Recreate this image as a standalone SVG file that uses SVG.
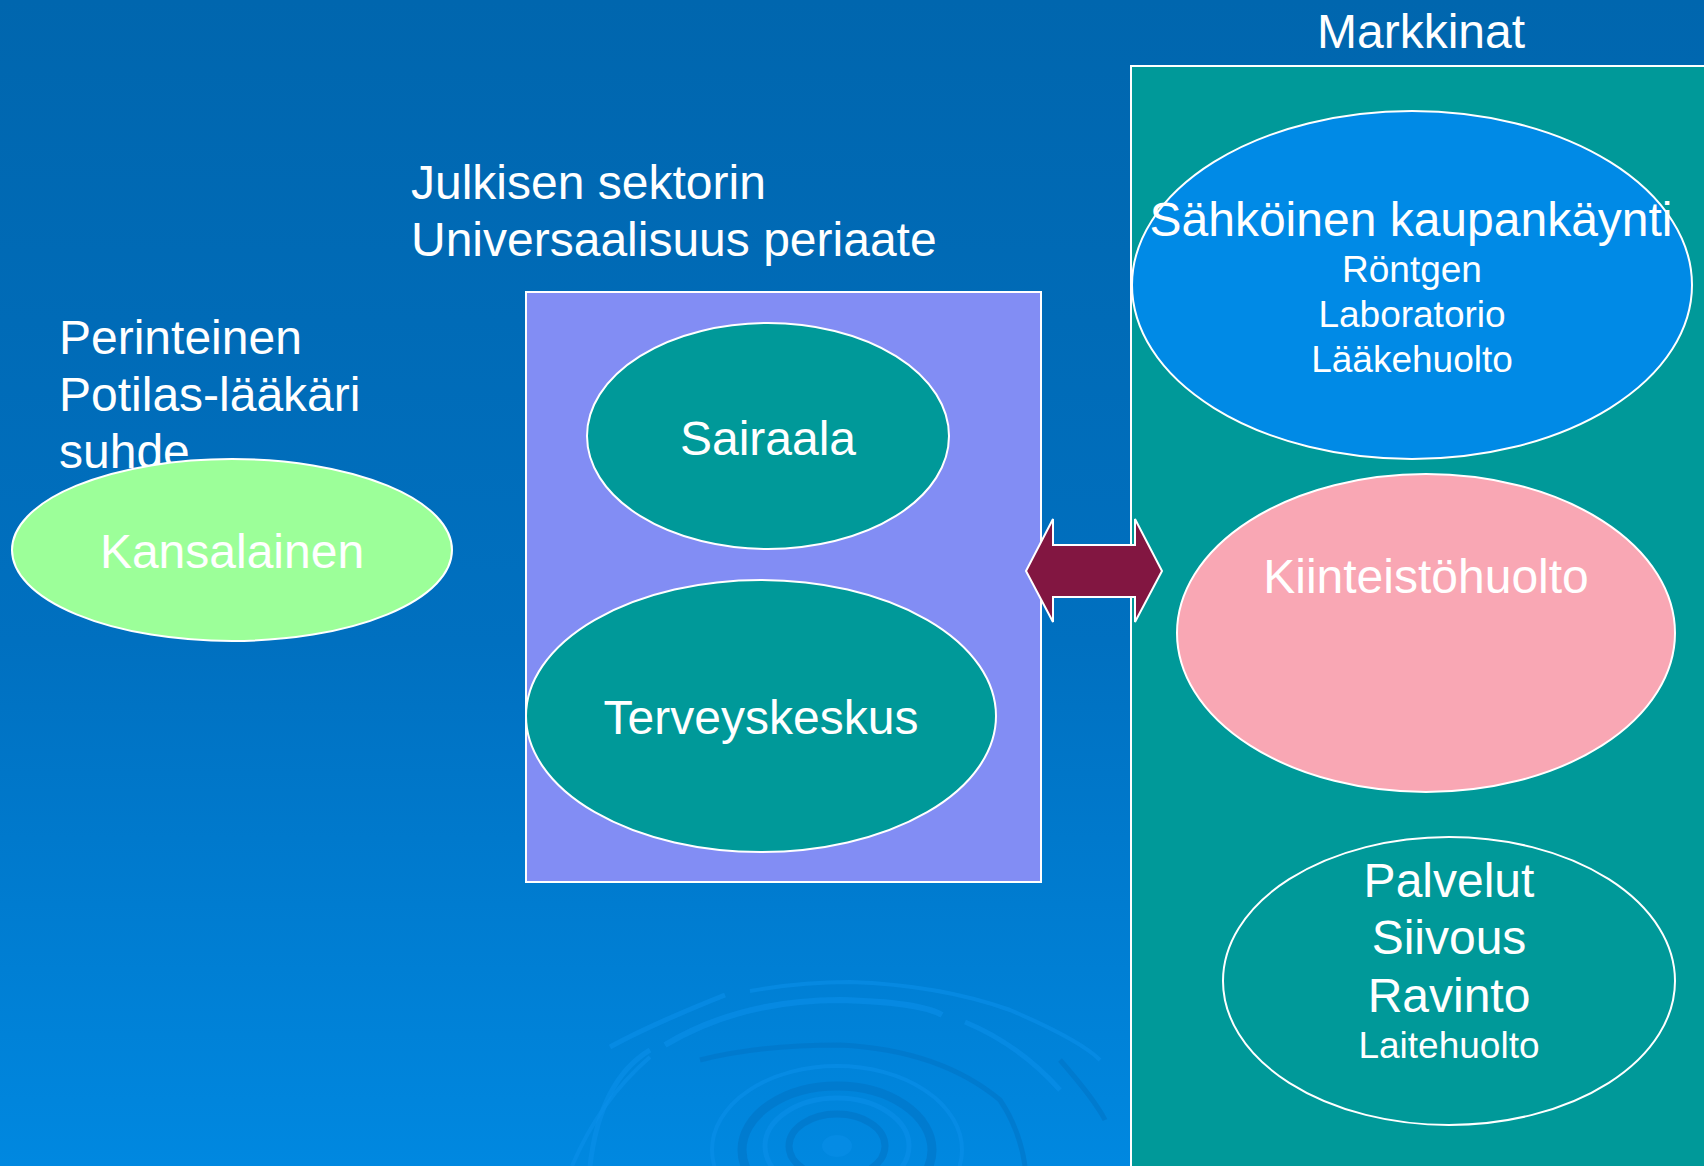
<svg xmlns="http://www.w3.org/2000/svg" width="1704" height="1166" viewBox="0 0 1704 1166">
  <defs>
    <linearGradient id="bg" x1="0" y1="0" x2="0" y2="1">
      <stop offset="0" stop-color="#0066AE"/>
      <stop offset="0.55" stop-color="#0070C0"/>
      <stop offset="1" stop-color="#0088E0"/>
    </linearGradient>
    <style>
      .t { font-family: "Liberation Sans", Arial, sans-serif; fill: #FFFFFF; }
      .big { font-size: 48px; }
      .small { font-size: 37px; }
      .mid { text-anchor: middle; }
      .node { stroke: #FFFFFF; stroke-width: 2; }
      .ring { fill: none; stroke: #0A8FEA; stroke-opacity: 0.6; }
      .ringd { fill: none; stroke: #0074C6; stroke-opacity: 0.6; }
    </style>
  </defs>

  <rect x="0" y="0" width="1704" height="1166" fill="url(#bg)"/>

  <!-- background ripple decoration -->
  <g id="ripple">
    <ellipse cx="837" cy="1146" rx="15" ry="11" fill="#0A8FEA" fill-opacity="0.5"/>
    <ellipse class="ringd" cx="837" cy="1146" rx="48" ry="32" stroke-width="7"/>
    <ellipse class="ring" cx="837" cy="1146" rx="72" ry="48" stroke-width="5"/>
    <ellipse class="ringd" cx="837" cy="1150" rx="95" ry="64" stroke-width="9"/>
    <ellipse class="ring" cx="837" cy="1150" rx="125" ry="84" stroke-width="4" stroke-opacity="0.35"/>
    <path class="ringd" d="M 700 1060 Q 760 1045 840 1045 Q 940 1050 1000 1100 Q 1020 1130 1025 1166" stroke-width="5"/>
    <path class="ring" d="M 590 1166 Q 600 1080 650 1050" stroke-width="5" stroke-opacity="0.35"/>
    <path class="ring" d="M 665 1045 Q 740 1000 840 1000 Q 920 1002 942 1015" stroke-width="6"/>
    <path class="ring" d="M 610 1047 Q 650 1025 725 995" stroke-width="5"/>
    <path class="ring" d="M 750 991 Q 800 982 850 982 Q 940 985 1010 1010 Q 1080 1040 1100 1060" stroke-width="4"/>
    <path class="ring" d="M 965 1022 Q 1020 1045 1060 1090" stroke-width="5"/>
    <path class="ringd" d="M 1060 1060 Q 1095 1100 1105 1120" stroke-width="5"/>
    <path class="ring" d="M 650 1057 Q 600 1100 572 1166" stroke-width="4" stroke-opacity="0.3"/>
  </g>

  <!-- plain labels -->
  <g id="label-julkinen">
    <text class="t big" x="411" y="199">Julkisen sektorin</text>
    <text class="t big" x="411" y="256">Universaalisuus periaate</text>
  </g>
  <g id="label-perinteinen">
    <text class="t big" x="59" y="354">Perinteinen</text>
    <text class="t big" x="59" y="411">Potilas-lääkäri</text>
    <text class="t big" x="59" y="468">suhde</text>
  </g>
  <g id="label-markkinat">
    <text class="t big mid" x="1421" y="48">Markkinat</text>
  </g>

  <!-- containers -->
  <g id="julkinen-box">
    <rect class="node" x="526" y="292" width="515" height="590" fill="#828DF4"/>
  </g>
  <g id="markkinat-box">
    <rect class="node" x="1131" y="66" width="620" height="1150" fill="#009999"/>
  </g>

  <!-- nodes -->
  <g id="kansalainen">
    <ellipse class="node" cx="232" cy="550" rx="220" ry="91" fill="#9CFF99"/>
    <text class="t big mid" x="232" y="568">Kansalainen</text>
  </g>
  <g id="sairaala">
    <ellipse class="node" cx="768" cy="436" rx="181" ry="113" fill="#009999"/>
    <text class="t big mid" x="768" y="455">Sairaala</text>
  </g>
  <g id="terveyskeskus">
    <ellipse class="node" cx="761" cy="716" rx="235" ry="136" fill="#009999"/>
    <text class="t big mid" x="761" y="734">Terveyskeskus</text>
  </g>
  <g id="sahkoinen">
    <ellipse class="node" cx="1412" cy="285" rx="280" ry="174" fill="#008AE6"/>
    <text class="t big mid" x="1411" y="236">Sähköinen kaupankäynti</text>
    <text class="t small mid" x="1412" y="282">Röntgen</text>
    <text class="t small mid" x="1412" y="327">Laboratorio</text>
    <text class="t small mid" x="1412" y="372">Lääkehuolto</text>
  </g>
  <g id="kiinteisto">
    <ellipse class="node" cx="1426" cy="633" rx="249" ry="159" fill="#F9A7B4"/>
    <text class="t big mid" x="1426" y="593">Kiinteistöhuolto</text>
  </g>
  <g id="palvelut">
    <ellipse class="node" cx="1449" cy="981" rx="226" ry="144" fill="#009999"/>
    <text class="t big mid" x="1449" y="897">Palvelut</text>
    <text class="t big mid" x="1449" y="954">Siivous</text>
    <text class="t big mid" x="1449" y="1012">Ravinto</text>
    <text class="t small mid" x="1449" y="1058">Laitehuolto</text>
  </g>

  <!-- connectors -->
  <g id="connectors">
    <polygon class="node" fill="#821641" points="1026,571 1053,519 1053,545 1135,545 1135,519 1162,571 1135,622 1135,597 1053,597 1053,622"/>
  </g>
</svg>
